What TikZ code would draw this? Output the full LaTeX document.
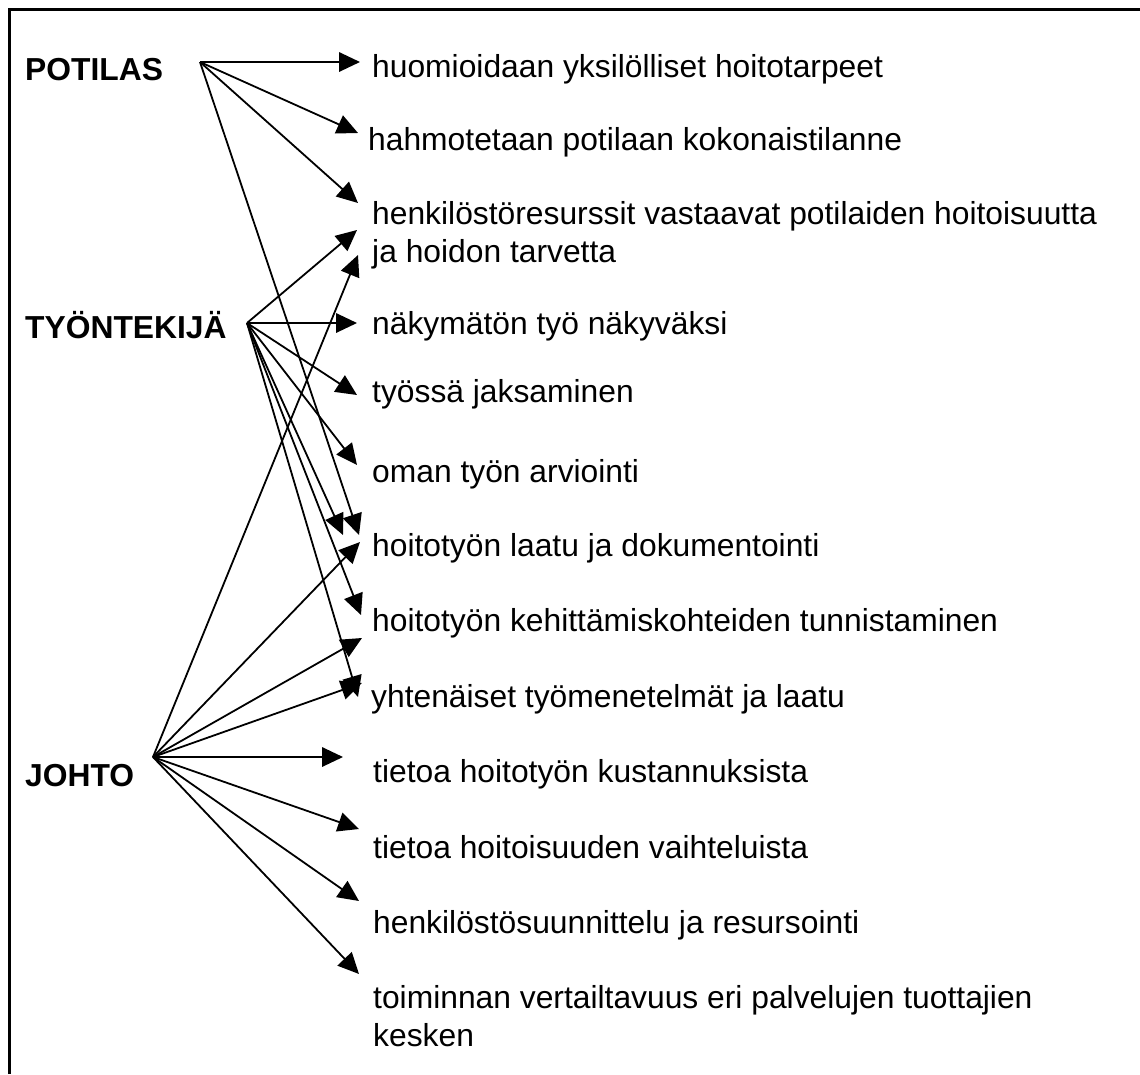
\documentclass[tikz,border=0pt]{standalone}
\usepackage{fontspec}
\setmainfont{Liberation Sans}
\usetikzlibrary{arrows.meta}
\begin{document}
\begin{tikzpicture}[x=1pt,y=-1pt,
  lbl/.style={font=\fontsize{31.8}{37.5}\selectfont\bfseries, anchor=base west, inner sep=0pt},
  item/.style={font=\fontsize{31.8}{37.5}\selectfont, anchor=base west, inner sep=0pt, align=left},
  arr/.style={-{Triangle[length=21pt,width=19.5pt]}, line width=1.8pt}]
\useasboundingbox (0,0) rectangle (1140,1074);
\draw[line width=3pt] (9.5,1074) -- (9.5,9.5) -- (1140,9.5);

% left labels
\node[lbl] (potilas) at (25,80) {POTILAS};
\node[lbl] (tyontekija) at (25,338) {TYÖNTEKIJÄ};
\node[lbl] (johto) at (25,786) {JOHTO};

% right texts (multi-line nodes: base = last line)
\node[item] (r1) at (372,77) {huomioidaan yksilölliset hoitotarpeet};
\node[item] (r2) at (368,150) {hahmotetaan potilaan kokonaistilanne};
\node[item] (r3) at (372,262) {henkilöstöresurssit vastaavat potilaiden hoitoisuutta\\ja hoidon tarvetta};
\node[item] (r4) at (372,334) {näkymätön työ näkyväksi};
\node[item] (r5) at (372,402) {työssä jaksaminen};
\node[item] (r6) at (372,482) {oman työn arviointi};
\node[item] (r7) at (372,556) {hoitotyön laatu ja dokumentointi};
\node[item] (r8) at (372,631) {hoitotyön kehittämiskohteiden tunnistaminen};
\node[item] (r9) at (371,707) {yhtenäiset työmenetelmät ja laatu};
\node[item] (r10) at (373,782) {tietoa hoitotyön kustannuksista};
\node[item] (r11) at (373,858) {tietoa hoitoisuuden vaihteluista};
\node[item] (r12) at (373,933) {henkilöstösuunnittelu ja resursointi};
\node[item] (r13) at (373,1046) {toiminnan vertailtavuus eri palvelujen tuottajien\\kesken};

% sources
\coordinate (pS) at (200,62);
\coordinate (tS) at (247,323);
\coordinate (jS) at (153,757);

% tips
\coordinate (p1) at (360,62);
\coordinate (p2) at (358,133);
\coordinate (p3) at (358,203);
\coordinate (p4) at (359,535);
\coordinate (t1) at (357,230);
\coordinate (t2) at (357,323);
\coordinate (t3) at (357,395);
\coordinate (t4) at (357,465);
\coordinate (t5) at (343,535);
\coordinate (t6) at (361,615);
\coordinate (t7) at (358,697);
\coordinate (j1) at (358,255);
\coordinate (j2) at (360,542);
\coordinate (j3) at (362,638);
\coordinate (j4) at (362,683);
\coordinate (j5) at (343,757);
\coordinate (j6) at (359,829);
\coordinate (j7) at (359,901);
\coordinate (j8) at (359,974);

\foreach \t in {p1,p2,p3,p4} \draw[arr] (pS) -- (\t);
\foreach \t in {t1,t2,t3,t4,t5,t6,t7} \draw[arr] (tS) -- (\t);
\foreach \t in {j1,j2,j3,j4,j5,j6,j7,j8} \draw[arr] (jS) -- (\t);
\end{tikzpicture}
\end{document}
